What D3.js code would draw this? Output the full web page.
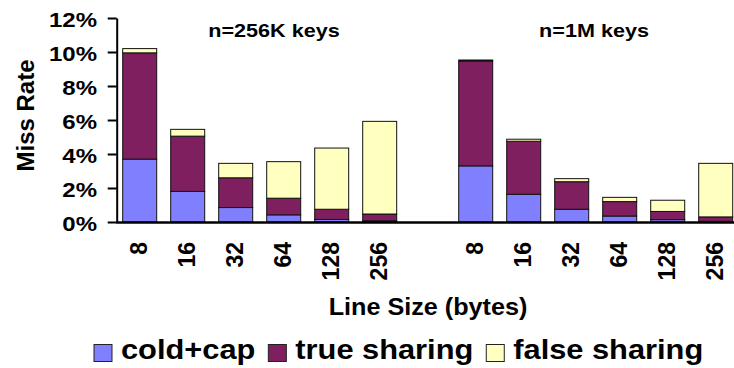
<!DOCTYPE html>
<html>
<head>
<meta charset="utf-8">
<script src="https://cdn.jsdelivr.net/npm/d3@7"></script>
<style>
  html, body { margin: 0; padding: 0; background: #fff; }
  svg { display: block; font-family: "Liberation Sans", Arial, sans-serif; font-weight: bold; }
</style>
</head>
<body>
<svg id="chart" width="734" height="368"></svg>
<script>
// Line sizes (bytes) on the x axis, one set per problem size
const lineSizes = ["8", "16", "32", "64", "128", "256"];
const groupTitles = ["n=256K keys", "n=1M keys"];
const seriesNames = ["cold+cap", "true sharing", "false sharing"];
const seriesColors = ["#8080ff", "#7f1f5f", "#ffffc0"];

// Miss rate (%) per component, n = 256K keys
const coldCap256K = [3.7, 1.8, 0.85, 0.42, 0.15, 0.07];
const trueSharing256K = [6.25, 3.25, 1.75, 0.98, 0.6, 0.4];
const falseSharing256K = [0.25, 0.4, 0.85, 2.15, 3.6, 5.45];

// Miss rate (%) per component, n = 1M keys
const coldCap1M = [3.3, 1.63, 0.75, 0.35, 0.14, 0.04];
const trueSharing1M = [6.17, 3.12, 1.62, 0.85, 0.48, 0.26];
const falseSharing1M = [0.06, 0.12, 0.18, 0.25, 0.66, 3.15];

const yTicks = [0, 2, 4, 6, 8, 10, 12];

// Build one row per bar, with an empty slot between the two groups
const groupData = [
  [coldCap256K, trueSharing256K, falseSharing256K],
  [coldCap1M, trueSharing1M, falseSharing1M]
];
const rows = [];
groupData.forEach((g, gi) => {
  if (gi > 0) rows.push({ id: "gap", label: "", gap: true, s0: 0, s1: 0, s2: 0 });
  lineSizes.forEach((ls, i) => {
    rows.push({ id: gi + "|" + ls, label: ls, gap: false, s0: g[0][i], s1: g[1][i], s2: g[2][i] });
  });
});

const svg = d3.select("#chart");
const FONT = 'font-family';

const x = d3.scaleBand()
  .domain(rows.map(d => d.id))
  .range([115.7, 739.7])
  .paddingInner(0.2917)
  .paddingOuter(0.1458);

const y = d3.scaleLinear().domain([0, 12]).range([222, 18]);

const stack = d3.stack().keys(["s0", "s1", "s2"]);
const layers = stack(rows.filter(d => !d.gap));

// Stacked bars
svg.append("g")
  .selectAll("g")
  .data(layers)
  .join("g")
  .attr("fill", (d, i) => seriesColors[i])
  .selectAll("rect")
  .data(d => d)
  .join("rect")
  .attr("x", d => x(d.data.id))
  .attr("width", x.bandwidth())
  .attr("y", d => y(d[1]))
  .attr("height", d => y(d[0]) - y(d[1]))
  .attr("stroke", "#111")
  .attr("stroke-width", 1);

// Y axis
const yAxis = svg.append("g")
  .attr("transform", "translate(116.7,0)")
  .call(d3.axisLeft(y).tickValues(yTicks).tickFormat(d => d + "%").tickSize(9).tickSizeOuter(0));
yAxis.select(".domain").attr("stroke", "#000").attr("stroke-width", 2);
yAxis.selectAll(".tick line").attr("stroke", "#000").attr("stroke-width", 2);
yAxis.selectAll(".tick text")
  .attr("x", null)
  .attr("dy", "0.4em")
  .attr("fill", "#000")
  .attr("font-size", 20)
  .attr("font-weight", "bold")
  .attr(FONT, '"Liberation Sans", Arial, sans-serif')
  .attr("text-anchor", "end")
  .attr("transform", "translate(-19.7,0) scale(1.2,1)");

// X axis
const xAxis = svg.append("g")
  .attr("transform", "translate(0,222)")
  .call(d3.axisBottom(x).tickFormat(id => rows.find(r => r.id === id).label).tickSize(0).tickSizeOuter(0));
xAxis.select(".domain").attr("stroke", "#000").attr("stroke-width", 2.5);
xAxis.selectAll(".tick text")
  .attr("x", 0)
  .attr("y", 0)
  .attr("dy", "0.3em")
  .attr("fill", "#000")
  .attr("font-size", 23)
  .attr("font-weight", "bold")
  .attr(FONT, '"Liberation Sans", Arial, sans-serif')
  .attr("text-anchor", "end")
  .attr("transform", "translate(0,20) rotate(-90)");

// Group titles
const titleX = [274, 594];
groupTitles.forEach((t, i) => {
  svg.append("text")
    .attr("transform", `translate(${titleX[i]},37.3) scale(1.2,1)`)
    .attr("text-anchor", "middle")
    .attr("font-size", 18)
    .text(t);
});

// Axis titles
svg.append("text")
  .attr("transform", "translate(25.5,115.5) rotate(-90)")
  .attr("text-anchor", "middle")
  .attr("dy", "0.36em")
  .attr("font-size", 24)
  .text("Miss Rate");

svg.append("text")
  .attr("transform", "translate(428,315) scale(1.05,1)")
  .attr("text-anchor", "middle")
  .attr("font-size", 24)
  .text("Line Size (bytes)");

// Legend
const legend = svg.append("g").attr("transform", "translate(94,0)");
let lx = 0;
seriesNames.forEach((name, i) => {
  legend.append("rect")
    .attr("x", lx).attr("y", 344.5)
    .attr("width", 18).attr("height", 17)
    .attr("fill", seriesColors[i])
    .attr("stroke", "#222").attr("stroke-width", 1);
  const t = legend.append("text")
    .attr("transform", `translate(${lx + 27},358.5) scale(1.1,1)`)
    .attr("font-size", 28)
    .text(name);
  lx += 27 + t.node().getComputedTextLength() * 1.1 + 13;
});
</script>
</body>
</html>
